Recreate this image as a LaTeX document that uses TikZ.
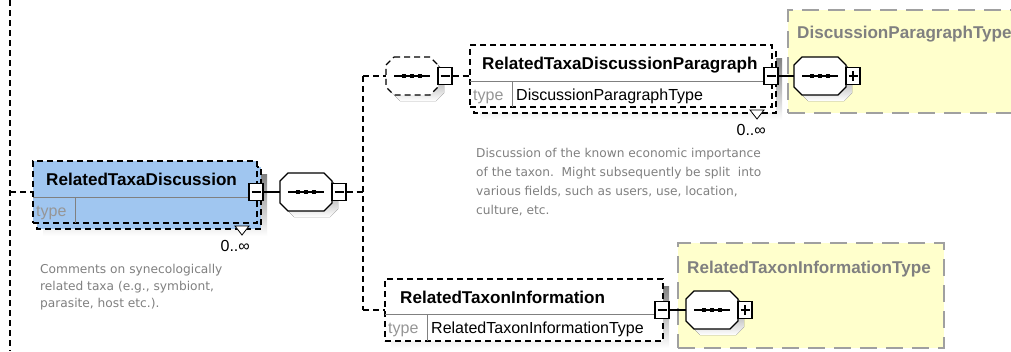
\documentclass[tikz,border=0pt]{standalone}
\usepackage{fontspec}
\setmainfont{Liberation Sans}
\newfontfamily\notefont{DejaVu Sans}
\pgfdeclarelayer{background}
\pgfsetlayers{background,main}

\definecolor{selblue}{RGB}{160,198,240}
\definecolor{shade}{RGB}{192,192,192}
\definecolor{rulegray}{RGB}{128,128,128}
\definecolor{labelgray}{RGB}{150,150,150}
\definecolor{notegray}{RGB}{128,128,128}
\definecolor{paleyellow}{RGB}{255,255,204}
\definecolor{framegray}{RGB}{160,160,160}

% octagon outline of a sequence compositor: #1 = slot node, #2 = offset
\newcommand\octline[2]{([shift={#2},xshift=8pt]#1.north west) -- ([shift={#2},xshift=-8pt]#1.north east) -- ([shift={#2},yshift=-8pt]#1.north east) -- ([shift={#2},yshift=8pt]#1.south east) -- ([shift={#2},xshift=-8pt]#1.south east) -- ([shift={#2},xshift=8pt]#1.south west) -- ([shift={#2},yshift=8pt]#1.south west) -- ([shift={#2},yshift=-8pt]#1.north west) -- cycle}

% sequence symbol with shadow, line and three dots: #1 = slot node, #2 = line style
\newcommand\seqglyph[2]{%
  \fill[shade] \octline{#1}{(6pt,-6pt)};
  \filldraw[fill=white, line width=1.2pt, #2] \octline{#1}{(0pt,0pt)};
  \draw[line width=1.2pt] ([xshift=8pt]#1.west) -- ([xshift=-8pt]#1.east);
  \foreach \dx in {-9.75,-1.75,6.25}
    \fill ([shift={(\dx pt,-1.75pt)}]#1.center) rectangle ++(3.5pt,3.5pt);
}

\tikzset{
  conn/.style={line width=1.1pt, dash pattern=on 6pt off 4pt},
  link/.style={line width=1.1pt},
  elemline/.style={draw=black, line width=1.2pt, dash pattern=on 6pt off 4pt},
  elembox/.style={elemline, minimum height=62pt, inner sep=0pt, outer sep=0pt, anchor=north west},
  divider/.style={draw=rulegray, line width=1pt},
  signbox/.style={draw, line width=1.1pt, fill=white, minimum width=14pt, minimum height=17pt, inner sep=0pt},
  minusbox/.style={signbox, path picture={\draw[line width=1.1pt] ([xshift=-4.5pt]path picture bounding box.center) -- ([xshift=4.5pt]path picture bounding box.center);}},
  plusbox/.style={signbox, path picture={\draw[line width=1.1pt] ([xshift=-4.5pt]path picture bounding box.center) -- ([xshift=4.5pt]path picture bounding box.center) ([yshift=-5pt]path picture bounding box.center) -- ([yshift=5pt]path picture bounding box.center);}},
  seqslot/.style={minimum width=52pt, minimum height=38pt, inner sep=0pt, outer sep=0pt},
  eltitle/.style={font=\fontsize{17.1}{20}\selectfont\bfseries, anchor=base west, inner sep=0pt},
  eltext/.style={font=\fontsize{16}{19}\selectfont, anchor=base west, inner sep=0pt},
  typelabel/.style={eltext, text=labelgray},
  occurs/.style={eltext, anchor=base east},
  annot/.style={font=\notefont\fontsize{12.2}{17}\selectfont, text=notegray, align=left, anchor=north west, inner sep=0pt},
  typebox/.style={draw=framegray, fill=paleyellow, line width=2pt, dash pattern=on 17pt off 9pt, anchor=north west, inner sep=0pt},
  typetitle/.style={font=\fontsize{17.1}{20}\selectfont\bfseries, text=rulegray, anchor=base west, inner sep=0pt},
  occmark/.style={fill=white, draw=black, line width=0.8pt},
}

\begin{document}
\begin{tikzpicture}[x=1pt,y=-1pt]
\useasboundingbox (0,0) rectangle (1011,351);
\begin{pgfonlayer}{background}
  \fill[white] (0,0) rectangle (1011,351);
\end{pgfonlayer}
\clip (0,0) rectangle (1011,351);

% complex type boxes
\node[typebox, minimum width=250pt, minimum height=103pt] (Y1) at (787,9) {};
\node[typetitle] (Y1t) at ([shift={(10pt,-29pt)}]Y1.north west) {DiscussionParagraphType};
\node[typebox, minimum width=266pt, minimum height=105pt] (Y2) at (677,242) {};
\node[typetitle] (Y2t) at ([shift={(10pt,-31pt)}]Y2.north west) {RelatedTaxonInformationType};

% element RelatedTaxaDiscussion (0..unbounded)
\node[elembox, fill=selblue, minimum width=224pt] (A) at (33,161) {};
\begin{pgfonlayer}{background}
  \fill[shade] ([shift={(10pt,-13pt)}]A.north west) rectangle ([shift={(10pt,-13pt)}]A.south east);
  \path[elemline, fill=selblue] ([shift={(4pt,-6pt)}]A.north west) rectangle ([shift={(4pt,-6pt)}]A.south east);
\end{pgfonlayer}
\draw[divider] ([yshift=-36pt]A.north west) -- ([yshift=-36pt]A.north east);
\draw[divider] ([shift={(42pt,-36pt)}]A.north west) -- ([xshift=42pt]A.south west);
\node[eltitle] (At) at ([shift={(13pt,-24pt)}]A.north west) {RelatedTaxaDiscussion};
\node[typelabel] (Ak) at ([shift={(3pt,-55pt)}]A.north west) {type};
\draw[occmark] ([shift={(-22pt,-3pt)}]A.south east) -- ++(14pt,0pt) -- ++(-7pt,-9pt) -- cycle;
\node[occurs] (Ao) at ([shift={(-7pt,-28pt)}]A.south east) {0..∞};
\node[annot] (An) at ([shift={(7pt,-40.7pt)}]A.south west) {Comments on synecologically\\related taxa (e.g., symbiont,\\parasite, host etc.).};
\node[minusbox] (Am) at ([xshift=-1pt]A.east) {};

% element RelatedTaxaDiscussionParagraph (0..unbounded)
\node[elembox, fill=white, minimum width=302pt] (P) at (470,45) {};
\begin{pgfonlayer}{background}
  \fill[shade] ([shift={(10pt,-13pt)}]P.north west) rectangle ([shift={(10pt,-13pt)}]P.south east);
  \path[elemline, fill=white] ([shift={(4pt,-6pt)}]P.north west) rectangle ([shift={(4pt,-6pt)}]P.south east);
\end{pgfonlayer}
\draw[divider] ([yshift=-36pt]P.north west) -- ([yshift=-36pt]P.north east);
\draw[divider] ([shift={(42pt,-36pt)}]P.north west) -- ([xshift=42pt]P.south west);
\node[eltitle] (Pt) at ([shift={(12pt,-24pt)}]P.north west) {RelatedTaxaDiscussionParagraph};
\node[typelabel] (Pk) at ([shift={(3pt,-55pt)}]P.north west) {type};
\node[eltext] (Pv) at ([shift={(46pt,-55pt)}]P.north west) {DiscussionParagraphType};
\draw[occmark] ([shift={(-22pt,-3pt)}]P.south east) -- ++(14pt,0pt) -- ++(-7pt,-9pt) -- cycle;
\node[occurs] (Po) at ([shift={(-6pt,-28pt)}]P.south east) {0..∞};
\node[annot, font=\notefont\fontsize{12.2}{19}\selectfont] (Pn) at ([shift={(6pt,-40.7pt)}]P.south west) {Discussion of the known economic importance\\of the taxon.\ \ Might subsequently be split\ \ into\\various fields, such as users, use, location,\\culture, etc.};
\node[minusbox] (Pm) at ([xshift=-1pt]P.east) {};

% element RelatedTaxonInformation
\node[elembox, fill=white, minimum width=278pt] (I) at (385,279) {};
\begin{pgfonlayer}{background}
  \fill[shade] ([shift={(6pt,-7pt)}]I.north west) rectangle ([shift={(6pt,-7pt)}]I.south east);
\end{pgfonlayer}
\draw[divider] ([yshift=-35pt]I.north west) -- ([yshift=-35pt]I.north east);
\draw[divider] ([shift={(42pt,-35pt)}]I.north west) -- ([xshift=42pt]I.south west);
\node[eltitle] (It) at ([shift={(15pt,-24pt)}]I.north west) {RelatedTaxonInformation};
\node[typelabel] (Ik) at ([shift={(3pt,-54pt)}]I.north west) {type};
\node[eltext] (Iv) at ([shift={(46pt,-54pt)}]I.north west) {RelatedTaxonInformationType};
\node[minusbox] (Im) at ([xshift=-1pt]I.east) {};

% sequence compositors
\node[seqslot] (S1) at (306,192) {};
\seqglyph{S1}{solid}
\node[minusbox] (S1m) at ([xshift=7pt]S1.east) {};
\node[seqslot] (S2) at (412,76) {};
\seqglyph{S2}{dash pattern=on 6pt off 4pt}
\node[minusbox] (S2m) at ([xshift=7pt]S2.east) {};
\node[seqslot] (S3) at (820,76) {};
\seqglyph{S3}{solid}
\node[plusbox] (S3p) at ([xshift=7pt]S3.east) {};
\node[seqslot] (S4) at (712,310) {};
\seqglyph{S4}{solid}
\node[plusbox] (S4p) at ([xshift=7pt]S4.east) {};

% connectors
\coordinate (Ltop) at (10,0);
\coordinate (Lbot) at (10,351);
\coordinate (Vx) at (363,0);
\draw[conn] (Ltop) -- (Lbot);
\draw[conn] (A.west -| Ltop) -- (A.west);
\draw[link] (Am.east) -- (S1.west);
\draw[conn] (S1m.east) -- (S1m.east -| Vx);
\draw[conn] (S2.west -| Vx) -- (I.west -| Vx);
\draw[conn] (S2.west -| Vx) -- (S2.west);
\draw[conn] (S2m.east) -- (P.west);
\draw[link] (Pm.east) -- (S3.west);
\draw[conn] (I.west -| Vx) -- (I.west);
\draw[link] (Im.east) -- (S4.west);
\end{tikzpicture}
\end{document}
